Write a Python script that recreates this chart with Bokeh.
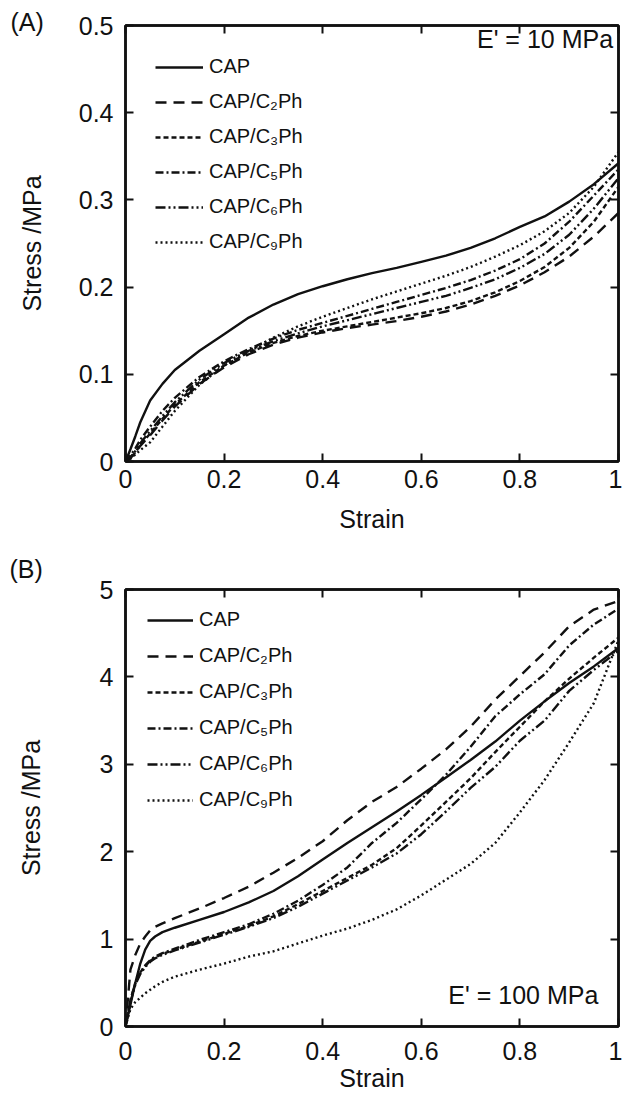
from bokeh.plotting import figure
from bokeh.models import (LinearAxis, FixedTicker, Label, Legend, LegendItem)
from bokeh.layouts import column
from bokeh.embed import file_html
from bokeh.resources import INLINE

# ---------------- data ----------------
series_names = ["CAP", "CAP/C\u2082Ph", "CAP/C\u2083Ph", "CAP/C\u2085Ph", "CAP/C\u2086Ph", "CAP/C\u2089Ph"]

# Panel A : E' = 10 MPa
strain_a = [0, 0.01, 0.02, 0.03, 0.05, 0.075, 0.1, 0.15, 0.2, 0.25, 0.3, 0.35, 0.4, 0.45, 0.5,
            0.55, 0.6, 0.65, 0.7, 0.75, 0.8, 0.85, 0.9, 0.95, 1.0]
a_cap  = [0, 0.014, 0.029, 0.045, 0.070, 0.089, 0.105, 0.127, 0.146, 0.165, 0.180, 0.192, 0.201,
          0.209, 0.216, 0.222, 0.229, 0.236, 0.245, 0.256, 0.269, 0.281, 0.298, 0.318, 0.342]
a_c2ph = [0, 0.004, 0.010, 0.018, 0.030, 0.047, 0.063, 0.089, 0.108, 0.123, 0.134, 0.142, 0.148,
          0.153, 0.157, 0.161, 0.166, 0.172, 0.180, 0.190, 0.202, 0.217, 0.235, 0.258, 0.285]
a_c3ph = [0, 0.004, 0.010, 0.019, 0.032, 0.049, 0.065, 0.091, 0.110, 0.125, 0.136, 0.144, 0.150,
          0.155, 0.160, 0.165, 0.170, 0.176, 0.184, 0.194, 0.207, 0.223, 0.245, 0.275, 0.315]
a_c5ph = [0, 0.007, 0.015, 0.025, 0.040, 0.058, 0.073, 0.097, 0.115, 0.129, 0.141, 0.151, 0.159,
          0.167, 0.175, 0.183, 0.191, 0.199, 0.208, 0.219, 0.232, 0.250, 0.275, 0.305, 0.335]
a_c6ph = [0, 0.005, 0.012, 0.021, 0.035, 0.052, 0.068, 0.094, 0.113, 0.127, 0.138, 0.147, 0.155,
          0.162, 0.169, 0.176, 0.183, 0.190, 0.199, 0.209, 0.222, 0.238, 0.260, 0.290, 0.325]
a_c9ph = [0, 0.003, 0.008, 0.013, 0.022, 0.040, 0.058, 0.088, 0.110, 0.127, 0.142, 0.155, 0.166,
          0.176, 0.186, 0.195, 0.204, 0.213, 0.223, 0.235, 0.248, 0.264, 0.285, 0.315, 0.355]

# Panel B : E' = 100 MPa
strain_b = [0, 0.01, 0.02, 0.03, 0.04, 0.05, 0.06, 0.075, 0.1, 0.15, 0.2, 0.25, 0.3, 0.35, 0.4,
            0.45, 0.5, 0.55, 0.6, 0.65, 0.7, 0.75, 0.8, 0.85, 0.9, 0.95, 1.0]
b_cap  = [0, 0.25, 0.50, 0.72, 0.88, 0.98, 1.03, 1.08, 1.13, 1.22, 1.31, 1.42, 1.55, 1.72, 1.91,
          2.10, 2.28, 2.46, 2.65, 2.85, 3.05, 3.26, 3.50, 3.72, 3.93, 4.12, 4.33]
b_c2ph = [0, 0.65, 0.82, 0.95, 1.03, 1.10, 1.14, 1.18, 1.24, 1.35, 1.47, 1.60, 1.76, 1.93, 2.12,
          2.36, 2.57, 2.74, 2.95, 3.17, 3.43, 3.74, 4.01, 4.28, 4.58, 4.77, 4.87]
b_c3ph = [0, 0.30, 0.50, 0.62, 0.69, 0.75, 0.79, 0.83, 0.88, 0.97, 1.06, 1.15, 1.26, 1.40, 1.55,
          1.70, 1.85, 2.04, 2.30, 2.57, 2.84, 3.14, 3.43, 3.72, 3.98, 4.22, 4.45]
b_c5ph = [0, 0.30, 0.50, 0.62, 0.70, 0.76, 0.80, 0.84, 0.89, 0.99, 1.08, 1.17, 1.29, 1.44, 1.62,
          1.82, 2.10, 2.33, 2.60, 2.88, 3.20, 3.55, 3.80, 4.03, 4.36, 4.60, 4.78]
b_c6ph = [0, 0.28, 0.48, 0.60, 0.68, 0.74, 0.78, 0.82, 0.87, 0.96, 1.05, 1.14, 1.24, 1.37, 1.52,
          1.67, 1.82, 1.98, 2.20, 2.46, 2.73, 2.97, 3.27, 3.50, 3.84, 4.08, 4.30]
b_c9ph = [0, 0.20, 0.28, 0.33, 0.38, 0.42, 0.46, 0.51, 0.57, 0.65, 0.72, 0.80, 0.86, 0.95, 1.04,
          1.12, 1.22, 1.34, 1.50, 1.68, 1.86, 2.10, 2.45, 2.82, 3.25, 3.70, 4.42]

x_ticks = [0, 0.2, 0.4, 0.6, 0.8, 1]
x_tick_labels = ["0", "0.2", "0.4", "0.6", "0.8", "1"]
ya_ticks = [0, 0.1, 0.2, 0.3, 0.4, 0.5]
ya_tick_labels = ["0", "0.1", "0.2", "0.3", "0.4", "0.5"]
yb_ticks = [0, 1, 2, 3, 4, 5]
yb_tick_labels = ["0", "1", "2", "3", "4", "5"]

# ---------------- style ----------------
FONT = "Liberation Sans"
INK = "#111111"
dashes = ["solid", "11 7", "5 3", "8 3 2 3", "10 3 2 3 2 3", "2 3"]


def make_panel(strain, ys, yr, yticks, ylabels, tag, tag_opts, modulus, mod_xy,
               height, borders, xstand, xlstand, ylstand, leg_loc, leg_spacing, glyph_w):
    bt, bb, bl, br = borders
    p = figure(width=622, height=height, x_range=(0, 1), y_range=yr,
               output_backend="svg", toolbar_location=None,
               min_border_top=bt, min_border_bottom=bb,
               min_border_left=bl, min_border_right=br)
    p.grid.visible = False
    p.outline_line_color = INK
    p.outline_line_width = 2.5
    p.background_fill_color = "white"
    p.border_fill_color = "white"

    renderers = []
    for y, d in zip(ys, dashes):
        r = p.line(strain, y, line_color=INK, line_width=2.4, line_dash=d)
        renderers.append(r)

    def style_axis(ax, show_labels, ticks, labels):
        ax.ticker = FixedTicker(ticks=ticks)
        ax.major_label_overrides = {t: l for t, l in zip(ticks, labels)}
        ax.minor_tick_line_color = None
        ax.major_tick_in = 8
        ax.major_tick_out = 0
        ax.major_tick_line_width = 2
        ax.major_tick_line_color = INK
        ax.axis_line_color = INK
        ax.axis_line_width = 2.5
        ax.major_label_text_font = FONT
        if show_labels:
            ax.major_label_text_font_size = "25px"
            ax.major_label_text_color = INK
        else:
            ax.major_label_text_font_size = "0px"
            ax.major_label_text_color = None
            ax.major_label_standoff = 0

    xa = p.xaxis[0]
    style_axis(xa, True, x_ticks, x_tick_labels)
    xa.major_label_standoff = xstand
    xa.axis_label = "Strain"
    xa.axis_label_standoff = xlstand

    ya = p.yaxis[0]
    style_axis(ya, True, yticks, ylabels)
    ya.major_label_standoff = 12
    ya.axis_label = "Stress /MPa"
    ya.axis_label_standoff = ylstand

    for ax in (xa, ya):
        ax.axis_label_text_font = FONT
        ax.axis_label_text_font_size = "25px"
        ax.axis_label_text_font_style = "normal"
        ax.axis_label_text_color = INK

    top = LinearAxis()
    style_axis(top, False, x_ticks, x_tick_labels)
    p.add_layout(top, "above")
    right = LinearAxis()
    style_axis(right, False, yticks, ylabels)
    p.add_layout(right, "right")

    legend = Legend(items=[LegendItem(label=n, renderers=[r]) for n, r in zip(series_names, renderers)],
                    location=leg_loc, margin=0, padding=0, spacing=leg_spacing,
                    glyph_width=glyph_w, glyph_height=20, label_height=20, label_standoff=6,
                    label_text_font=FONT, label_text_font_size="20px", label_text_color=INK,
                    border_line_color=None, background_fill_alpha=0)
    p.add_layout(legend)

    # panel tag as the plot title, pushed to the left edge of the page
    p.title.text = tag
    p.title.align = "left"
    p.title.offset = tag_opts[0]
    p.title.standoff = tag_opts[1]
    p.title.vertical_align = "bottom"
    p.title.text_font = FONT
    p.title.text_font_size = "25px"
    p.title.text_font_style = "normal"
    p.title.text_color = INK

    span = yr[1] - yr[0]
    p.add_layout(Label(x=mod_xy[0], y=mod_xy[1] * span, text=modulus, text_font=FONT,
                       text_font_size="25px", text_color=INK, text_baseline="middle",
                       text_align="right"))
    return p


pa = make_panel(strain_a, [a_cap, a_c2ph, a_c3ph, a_c5ph, a_c6ph, a_c9ph], (0, 0.5),
                ya_ticks, ya_tick_labels, "(A)", (-115, -20), "E' = 10 MPa", (0.989, 0.968),
                545, (25, 84, 124, 4), 8, 14, 30, (30, 208), 12, 48)
pb = make_panel(strain_b, [b_cap, b_c2ph, b_c3ph, b_c5ph, b_c6ph, b_c9ph], (0, 5),
                yb_ticks, yb_tick_labels, "(B)", (-116, 14), "E' = 100 MPa", (0.959, 0.073),
                553, (44, 72, 125, 4), 15, 1, 52, (22, 215), 13, 46)

layout = column(pa, pb, spacing=0)
open("out.html", "w").write(file_html(layout, INLINE))
